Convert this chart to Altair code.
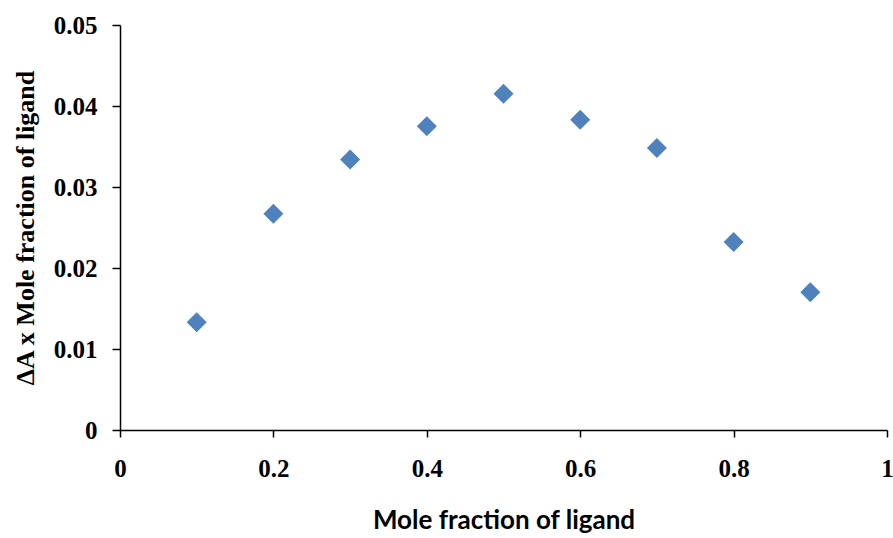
import altair as alt
import pandas as pd

# Job's plot data: mole fraction of ligand vs ΔA × mole fraction
mole_fraction = [0.1, 0.2, 0.3, 0.4, 0.5, 0.6, 0.7, 0.8, 0.9]
delta_a_x = [0.0133, 0.0267, 0.0334, 0.0375, 0.0415, 0.0383, 0.0348, 0.0232, 0.0170]

x_ticks = [0, 0.2, 0.4, 0.6, 0.8, 1]
y_ticks = [0, 0.01, 0.02, 0.03, 0.04, 0.05]

df = pd.DataFrame({"x": mole_fraction, "y": delta_a_x})

serif = "Liberation Serif"

chart = (
    alt.Chart(df)
    .mark_point(shape="diamond", filled=True, size=400, color="#4F81BD", opacity=1)
    .encode(
        x=alt.X(
            "x:Q",
            scale=alt.Scale(domain=[0, 1], nice=False, zero=False),
            axis=alt.Axis(
                values=x_ticks,
                format="~g",
                title="Mole fraction of ligand",
                titleFont="Lato",
                titleFontSize=26,
                titleFontWeight="bold",
                titleColor="#000000",
                titlePadding=26,
                labelFont=serif,
                labelFontSize=25,
                labelFontWeight="bold",
                labelColor="#000000",
                labelPadding=19,
                labelFlush=False,
                tickSize=7,
                tickColor="#000000",
                domainColor="#000000",
                domainWidth=1.5,
                tickWidth=1.5,
                grid=False,
            ),
        ),
        y=alt.Y(
            "y:Q",
            scale=alt.Scale(domain=[0, 0.05], nice=False, zero=False),
            axis=alt.Axis(
                values=y_ticks,
                format="~g",
                title="ΔA x Mole fraction of ligand",
                titleFont=serif,
                titleFontSize=26,
                titleFontWeight="bold",
                titleColor="#000000",
                titlePadding=15,
                labelFont=serif,
                labelFontSize=25,
                labelFontWeight="bold",
                labelColor="#000000",
                labelPadding=15,
                labelFlush=False,
                tickSize=8,
                tickColor="#000000",
                domainColor="#000000",
                domainWidth=1.5,
                tickWidth=1.5,
                grid=False,
            ),
        ),
    )
    .properties(
        width=767,
        height=405,
        autosize=alt.AutoSizeParams(type="none"),
        padding={"left": 120, "top": 25, "right": 6, "bottom": 108},
        background="#ffffff",
    )
    .configure_view(stroke=None)
)

chart.save("out.html", embed_options={"renderer": "svg", "actions": False})
